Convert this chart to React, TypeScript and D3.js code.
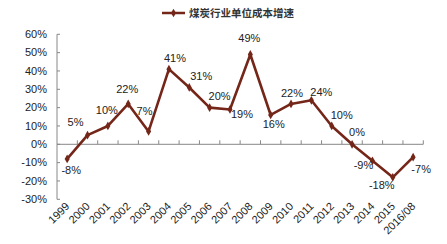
import React from "react";
import * as d3 from "d3";

const categories = ["1999","2000","2001","2002","2003","2004","2005","2006","2007","2008","2009","2010","2011","2012","2013","2014","2015","2016/08"];
const values = [-8, 5, 10, 22, 7, 41, 31, 20, 19, 49, 16, 22, 24, 10, 0, -9, -18, -7];
const yTicks = [60, 50, 40, 30, 20, 10, 0, -10, -20, -30];
const seriesName = "煤炭行业单位成本增速";
// label offsets relative to point (dx, dy of baseline)
const labelOffsets: [number, number][] = [
  [4, 15], [-12, -9], [-1, -12], [-1, -11], [-4, -16], [6, -7], [12, -7], [10, -8],
  [12, 9], [-1, -12], [3, 13], [1, -7], [10, -4], [10, -7], [5, -8], [-9, 8], [-11, 12], [8, 16],
];

const W = 447, H = 244;
const left = 57, right = 423.3, top = 34.3, bottom = 199.3;
const color = "#742619";
const font = "'Liberation Sans', Arial, sans-serif";

export default function App() {
  const x = d3.scaleBand<string>().domain(categories).range([left, right]);
  const y = d3.scaleLinear().domain([-30, 60]).range([bottom, top]);
  const cx = (c: string) => (x(c) as number) + x.bandwidth() / 2;
  const line = d3.line<number>().x((_, i) => cx(categories[i])).y((v) => y(v));
  const diamond = d3.symbol().type(d3.symbolDiamond).size(22)();
  const y0 = y(0);
  return (
    <svg width={W} height={H} style={{ position: "absolute", left: 0, top: 0, background: "#fff" }}>
      {/* legend */}
      <line x1={162} x2={185} y1={13} y2={13} stroke={color} strokeWidth={2.5} />
      <path d={diamond as string} transform="translate(173.5,13)" fill={color} />
      <text x={189} y={17} fontSize={10.5} fill="#333" fontFamily="'Noto Sans CJK SC', sans-serif" fontWeight={700}>{seriesName}</text>
      {/* y axis */}
      <line x1={left} x2={left} y1={top} y2={bottom} stroke="#888" strokeWidth={1} />
      {yTicks.map((t) => (
        <g key={t}>
          <line x1={left} x2={left + 3} y1={y(t)} y2={y(t)} stroke="#888" />
          <text x={47} y={y(t)} dy="0.35em" textAnchor="end" fontSize={11} fill="#222" fontFamily={font}>{t}%</text>
        </g>
      ))}
      {/* x axis at zero */}
      <line x1={left} x2={right} y1={y0} y2={y0} stroke="#888" strokeWidth={1} />
      {categories.map((c) => (
        <line key={c} x1={(x(c) as number) + x.bandwidth()} x2={(x(c) as number) + x.bandwidth()} y1={y0} y2={y0 - 4} stroke="#888" />
      ))}
      {categories.map((c) => (
        <text key={c} transform={`translate(${cx(c) + 3},${207}) rotate(-45)`} textAnchor="end" fontSize={11} fill="#222" fontFamily={font}>{c}</text>
      ))}
      {/* series */}
      <path d={line(values) as string} fill="none" stroke={color} strokeWidth={2.6} strokeLinejoin="round" />
      {values.map((v, i) => (
        <path key={i} d={diamond as string} transform={`translate(${cx(categories[i])},${y(v)})`} fill={color} />
      ))}
      {values.map((v, i) => (
        <text key={i} x={cx(categories[i]) + labelOffsets[i][0]} y={y(v) + labelOffsets[i][1]} textAnchor="middle" fontSize={11} fill="#222" fontFamily={font}>{v}%</text>
      ))}
    </svg>
  );
}
